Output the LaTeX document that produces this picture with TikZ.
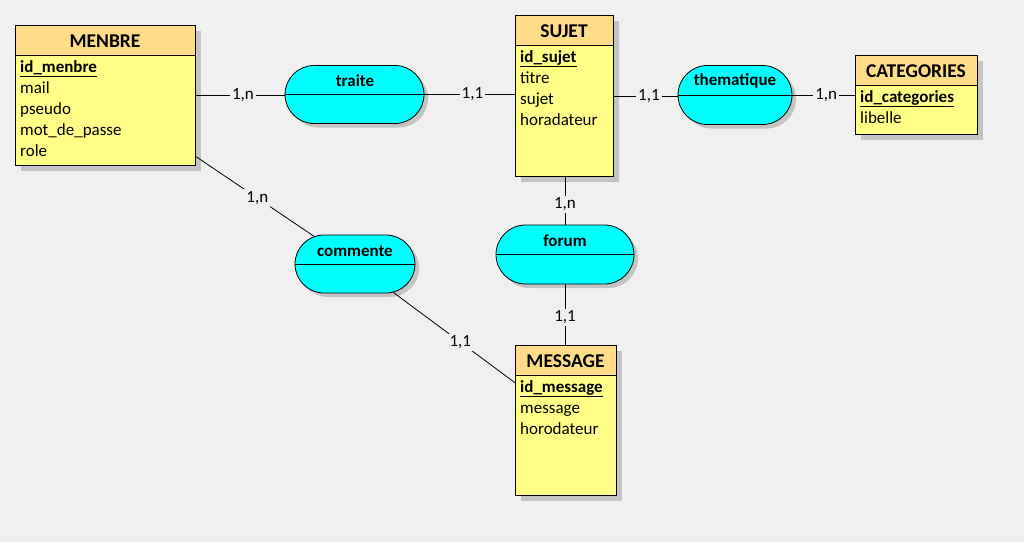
\documentclass[tikz,border=0pt]{standalone}
\usepackage{fontspec}
\setmainfont{Carlito}
\usetikzlibrary{shapes.misc,shadows}
\definecolor{bgc}{HTML}{F0F0F0}
\definecolor{headc}{HTML}{FFDD88}
\definecolor{bodyc}{HTML}{FFFF88}
\definecolor{relc}{HTML}{00FFFF}
\definecolor{shadc}{HTML}{C4C4C4}
\tikzset{
  entity/.style={draw=black, line width=0.9pt, fill=bodyc, anchor=north west, inner sep=0pt,
    general shadow={shadow xshift=6pt, shadow yshift=-6pt, fill=shadc},
    path picture={\fill[headc] (path picture bounding box.north west) rectangle ([yshift=-30pt]path picture bounding box.north east);
      \draw[line width=0.9pt] ([yshift=-30pt]path picture bounding box.north west) -- ([yshift=-30pt]path picture bounding box.north east);}},
  relation/.style={rounded rectangle, draw=black, line width=0.8pt, fill=relc, inner sep=0pt, anchor=center,
    general shadow={shadow xshift=4pt, shadow yshift=-4pt, fill=shadc},
    path picture={\draw[line width=0.8pt] (path picture bounding box.west) -- (path picture bounding box.east);}},
  etitle/.style={font=\fontsize{19.5}{19.5}\selectfont\bfseries, inner sep=0pt},
  attr/.style={font=\fontsize{17}{17}\selectfont, inner sep=0pt, anchor=base west},
  rtitle/.style={font=\fontsize{17}{17}\selectfont\bfseries, inner sep=0pt},
  card/.style={font=\fontsize{17}{17}\selectfont, fill=bgc, inner sep=2pt},
  link/.style={draw=black, line width=0.8pt}
}
\begin{document}
\begin{tikzpicture}[x=1pt,y=-1pt]
\fill[bgc] (0,0) rectangle (1024,542);
\useasboundingbox (0,0) rectangle (1024,542);

% entities
\node[entity, minimum width=180pt, minimum height=140pt] (menbre) at (15,25) {};
\node[etitle] (menbreT) at (105,41) {MENBRE};
\node[attr] (m1) at (20,72) {\bfseries\underline{id\_menbre}};
\node[attr] (m2) at (20,93) {mail};
\node[attr] (m3) at (20,114) {pseudo};
\node[attr] (m4) at (20,135) {mot\_de\_passe};
\node[attr] (m5) at (20,156) {role};

\node[entity, minimum width=98pt, minimum height=161pt] (sujet) at (515,15) {};
\node[etitle] (sujetT) at (564,31) {SUJET};
\node[attr] (s1) at (520,62) {\bfseries\underline{id\_sujet}};
\node[attr] (s2) at (520,83) {titre};
\node[attr] (s3) at (520,104) {sujet};
\node[attr] (s4) at (520,125) {horadateur};

\node[entity, minimum width=122pt, minimum height=79pt] (cat) at (855,55) {};
\node[etitle] (catT) at (916,71) {CATEGORIES};
\node[attr] (c1) at (860,102) {\bfseries\underline{id\_categories}};
\node[attr] (c2) at (860,123) {libelle};

\node[entity, minimum width=101pt, minimum height=150pt] (msg) at (515,345) {};
\node[etitle] (msgT) at (565.5,361) {MESSAGE};
\node[attr] (g1) at (520,392) {\bfseries\underline{id\_message}};
\node[attr] (g2) at (520,413) {message};
\node[attr] (g3) at (520,434) {horodateur};

% relations
\node[relation, minimum width=139pt, minimum height=58pt] (traite) at (354.5,94.5) {};
\node[rtitle] at (355,81) {traite};
\node[relation, minimum width=114pt, minimum height=59pt] (them) at (735,95) {};
\node[rtitle] at (735,81) {thematique};
\node[relation, minimum width=138pt, minimum height=59pt] (forum) at (565,254.5) {};
\node[rtitle] at (565,241) {forum};
\node[relation, minimum width=120pt, minimum height=58pt] (comm) at (355,264) {};
\node[rtitle] at (355,251) {commente};

% links
\draw[link] (menbre.east) -- node[card, pos=0.53] {1,n} (traite.west |- menbre.east);
\draw[link] (traite.east) -- node[card, pos=0.53] {1,1} (sujet.west |- traite.east);
\draw[link] (sujet.east) -- node[card, pos=0.55] {1,1} (them.west |- sujet.east);
\draw[link] (them.east) -- node[card, pos=0.54] {1,n} (cat.west |- them.east);
\draw[link] (sujet.south -| forum.north) -- node[card, pos=0.57] {1,n} (forum.north);
\draw[link] (forum.south) -- node[card, pos=0.54] {1,1} (msg.north -| forum.south);
\draw[link] (menbre) -- node[card, pos=0.52] {1,n} (comm);
\draw[link] (comm) -- node[card, pos=0.55] {1,1} (msg);
\end{tikzpicture}
\end{document}
